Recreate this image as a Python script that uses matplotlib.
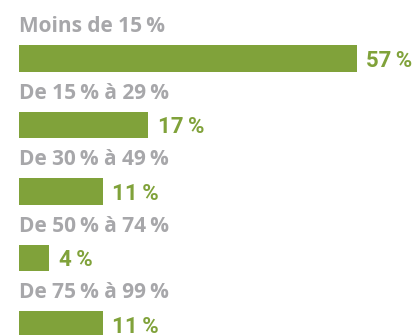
import numpy as np
import matplotlib.pyplot as plt

categories = ["Moins de 15\u202f%", "De 15\u202f% à 29\u202f%", "De 30\u202f% à 49\u202f%",
              "De 50\u202f% à 74\u202f%", "De 75\u202f% à 99\u202f%"]
values = [57, 17, 11, 4, 11]

green = "#80a23a"
grey = "#a7a7aa"


# long bars are compressed beyond 20 so the small ones stay readable
def fwd(x):
    x = np.asarray(x, dtype=float)
    return np.where(x <= 20, x, 20 + (x - 20) * 0.66)


def inv(x):
    x = np.asarray(x, dtype=float)
    return np.where(x <= 20, x, 20 + (x - 20) / 0.66)


fig = plt.figure(figsize=(4.14, 3.35), dpi=100)
ax = fig.add_axes([19 / 414, 0, 380 / 414, 1])
ax.set_xscale("function", functions=(fwd, inv))

y = np.arange(len(values))
ax.barh(y, values, height=0.40, color=green, linewidth=0)

for i, (cat, v) in enumerate(zip(categories, values)):
    ax.text(0, i - 0.393, cat, ha="left", va="baseline", fontsize=15,
            fontweight="bold", color=grey, family=["Open Sans", "DejaVu Sans"])
    ax.annotate(f"{v}\u2009%", xy=(v, i), xytext=(7, -6), textcoords="offset points",
                ha="left", va="baseline", fontsize=16, fontweight="bold", color=green,
                family=["Roboto", "DejaVu Sans"], annotation_clip=False)

ax.set_xlim(0, inv(50))
ax.set_ylim(4.161, -0.880)
ax.axis("off")

fig.savefig("out.png", dpi=100)
